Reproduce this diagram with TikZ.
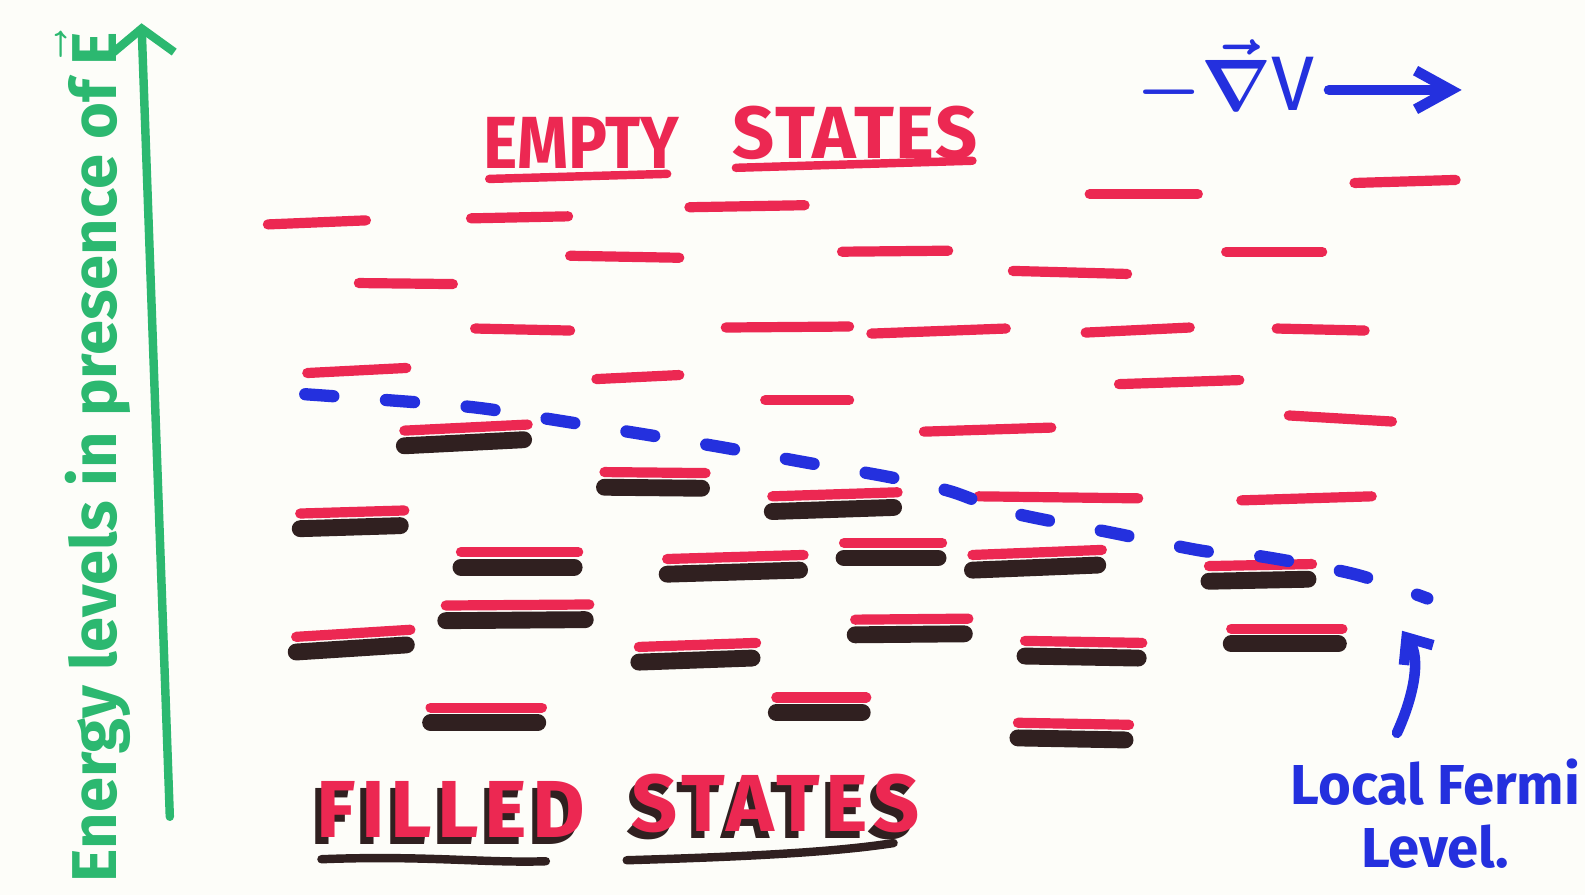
\documentclass[tikz,border=0pt]{standalone}
\usepackage{amsmath}
\usepackage{graphicx}
\usepackage{fontspec}
\setmainfont{Fira Sans}
\usepackage{tikz}
\usetikzlibrary{arrows.meta, positioning, calc}
\definecolor{penred}{RGB}{236,40,82}
\definecolor{penblack}{RGB}{48,32,32}
\definecolor{penblue}{RGB}{36,48,222}
\definecolor{pengreen}{RGB}{44,184,112}
\definecolor{paper}{RGB}{253,253,249}
\newcommand{\twotone}[1]{\makebox[0pt][l]{\hspace{-1.5pt}\raisebox{-2pt}{\color{penblack}#1}}{\color{penred}#1}}
\tikzset{
    emptylvl/.style={
        draw=penred,
        line width=2.9pt,
        line cap=round
    },
    filledlvl/.style={
        draw=penblack,
        line width=4.8pt,
        line cap=round
    },
    fermi/.style={
        draw=penblue,
        line width=3.5pt,
        line cap=round,
        dash pattern=on 8pt off 15pt
    },
    headline/.style={
        inner sep=0pt,
        font=\fontsize{21}{24}\selectfont\bfseries
    },
    filledhead/.style={
        inner sep=0pt,
        font=\fontsize{23}{26}\selectfont\bfseries\addfontfeatures{LetterSpace=7}
    },
    underline/.style={
        line width=2.4pt,
        line cap=round
    },
    penarrow/.style={
        line width=#1,
        line cap=round,
        line join=round
    }
}
\begin{document}
\begin{tikzpicture}[x=0.010108cm, y=-0.010108cm]

    % Paper
    \path[fill=paper, use as bounding box] (0,0) rectangle (1568,885);

    % Energy axis
    \coordinate (axisfoot) at (168,808);
    \coordinate (axistop) at (140,23);
    \draw [penarrow=2.4pt, draw=pengreen, -{Straight Barb[length=7pt, width=18pt]}] (axisfoot) -- (axistop);
    \node (axislbl) [rotate=90, text=pengreen, inner sep=0pt, font=\fontsize{18}{20}\selectfont\bfseries] at (92,452)
        {Energy levels in presence of $\vec{\text{E}}$};

    % Field direction
    \node (gradv) [text=penblue, inner sep=0pt, font=\fontsize{22}{24}\selectfont\boldmath] at (1212,79)
        {$-\vec{\nabla}\text{V}$};
    \coordinate (gradtip) at (1446,89);
    \draw [penarrow=3pt, draw=penblue, -{Straight Barb[length=10pt, width=11pt]}] ([xshift=4pt]gradv.east |- gradtip) -- (gradtip);

    % Headings
    \node (emptyA) [headline, text=penred] at (575,141) {\scalebox{0.88}[1]{EMPTY}};
    \node (emptyB) [headline, text=penred] at (846,131) {\addfontfeatures{LetterSpace=2}STATES};
    \draw [underline, draw=penred] (484,177) -- (660,172);
    \draw [underline, draw=penred] (728,166) -- (962,159);

    \node (filledA) [filledhead] at (446,804) {\twotone{FILLED}};
    \node (filledB) [filledhead] at (767,798) {\twotone{STATES}};
    \draw [underline, draw=penblack] (318,850) .. controls (420,846) and (480,854) .. (540,852);
    \draw [underline, draw=penblack] (620,851) .. controls (720,848) and (820,844) .. (884,834);

    % Empty levels
    \foreach \xa/\ya/\xb/\yb in {
        265/222/362/218, 466/216/562/214, 682/205/796/203, 1078/192/1185/192,
        1340/181/1440/178, 564/253/672/255, 833/249/938/248, 1213/249/1308/249,
        355/280/448/281, 1002/268/1115/271, 470/325/564/327, 718/324/840/323,
        862/330/995/325, 1074/329/1177/324, 1263/325/1350/327, 304/369/402/364,
        590/375/672/371, 757/396/840/396, 1107/380/1226/376, 914/427/1040/423,
        1275/411/1377/417, 968/491/1126/493, 1228/495/1357/491}
        \draw [emptylvl] (\xa,\ya) -- (\xb,\yb);

    % Filled levels
    \foreach \xa/\ya/\xb/\yb in {
        400/426/522/420, 297/508/400/505, 598/467/698/468, 764/491/888/487,
        456/546/572/546, 660/553/795/549, 835/537/932/537, 962/549/1090/544,
        1196/560/1298/558, 293/630/406/623, 441/599/583/598, 632/640/748/636,
        846/613/958/612, 1014/634/1130/636, 1218/622/1328/622, 426/700/536/700,
        768/690/857/690, 1007/715/1117/717} {
        \draw [filledlvl] (\xa,{\ya+15}) -- ({\xb-4},{\yb+15});
        \draw [emptylvl] (\xa,\ya) -- (\xb,\yb);
    }

    % Local Fermi level
    \draw [fermi] plot [smooth] coordinates {
        (302,390) (460,402) (540,414) (700,440) (800,458) (880,472) (940,486)
        (1000,507) (1100,527) (1190,545) (1245,550) (1340,568) (1412,592)};

    \node (fermilbl) [text=penblue, align=center, inner sep=0pt, font=\fontsize{16}{18}\selectfont\bfseries] at (1420,805)
        {Local Fermi\\Level.};
    \coordinate (fermifoot) at (1382,725);
    \coordinate (fermiptr) at (1387,624);
    \draw [penarrow=3pt, draw=penblue, -{Straight Barb[length=6pt, width=10pt]}]
        (fermifoot) .. controls (1398,690) and (1406,652) .. (fermiptr);

\end{tikzpicture}
\end{document}
